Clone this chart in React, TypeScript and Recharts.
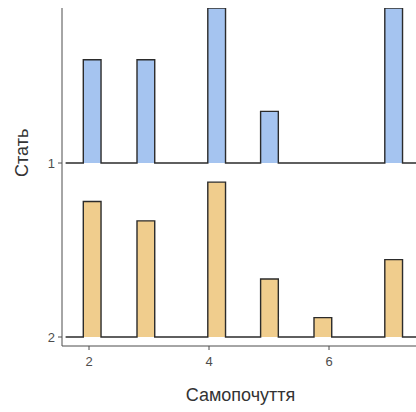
import React from 'react'
import { ComposedChart, Area, XAxis, YAxis } from 'recharts'

// histogram bins (left edge of each non-empty bin)
const binStarts = [1.905, 2.8, 3.98, 4.86, 5.75, 6.93]
const binWidth = 0.2955
const countsGroup1 = [2, 2, 3, 1, 0, 3]
const countsGroup2 = [7, 6, 8, 3, 1, 4]
const groupLabels = ['2', '1']
const xTicks = [2, 4, 6]

const RIDGE_SCALE = 0.89
const max1 = Math.max(...countsGroup1)
const max2 = Math.max(...countsGroup2)

// step outline points: baseline runs across the whole panel
const data: { x: number; g1: number; g2: number }[] = [{ x: 1.61, g1: 1, g2: 0 }]
binStarts.forEach((s, i) => {
   data.push({
      x: s,
      g1: 1 + (countsGroup1[i] / max1) * RIDGE_SCALE,
      g2: (countsGroup2[i] / max2) * RIDGE_SCALE,
   })
   data.push({ x: s + binWidth, g1: 1, g2: 0 })
})
data.push({ x: 7.75, g1: 1, g2: 0 })

const axisColor = '#4d4d4d'
const font = '"Liberation Sans", Arial, sans-serif'

const App = () => {
   return (
      <div
         style={{
            position: 'fixed',
            left: 0,
            top: 0,
            width: 416,
            height: 412,
            overflow: 'hidden',
            background: '#fff',
            fontFamily: font,
         }}
      >
         <ComposedChart
            width={440}
            height={412}
            data={data}
            margin={{ top: 8, right: 9, left: 0, bottom: 0 }}
         >
            <XAxis
               dataKey="x"
               type="number"
               domain={[1.55, 7.7]}
               ticks={xTicks}
               allowDataOverflow
               height={66}
               stroke={axisColor}
               tickSize={4}
               tick={{ fill: '#4d4d4d', fontSize: 13, fontFamily: font, dy: 5 }}
               label={{
                  value: 'Самопочуття',
                  position: 'insideTop',
                  offset: 42,
                  dx: -6,
                  fill: '#333',
                  fontSize: 18,
                  fontFamily: font,
               }}
            />
            <YAxis
               type="number"
               domain={[-0.0517, 1.891]}
               ticks={[0, 1]}
               tickFormatter={(v: number) => groupLabels[v]}
               allowDataOverflow
               width={62}
               stroke={axisColor}
               tickSize={4}
               tick={{ fill: '#4d4d4d', fontSize: 13, fontFamily: font, dx: -1 }}
               label={{
                  value: 'Стать',
                  angle: -90,
                  position: 'insideLeft',
                  offset: 22,
                  fill: '#333',
                  fontSize: 18,
                  fontFamily: font,
               }}
            />
            <Area
               dataKey="g2"
               type="stepAfter"
               baseValue={0}
               fill="#f0cd8d"
               fillOpacity={1}
               stroke="#2b2b2b"
               strokeWidth={1.4}
               isAnimationActive={false}
               dot={false}
               activeDot={false}
            />
            <Area
               dataKey="g1"
               type="stepAfter"
               baseValue={1}
               fill="#a5c4f0"
               fillOpacity={1}
               stroke="#2b2b2b"
               strokeWidth={1.4}
               isAnimationActive={false}
               dot={false}
               activeDot={false}
            />
         </ComposedChart>
      </div>
   )
}

export default App
